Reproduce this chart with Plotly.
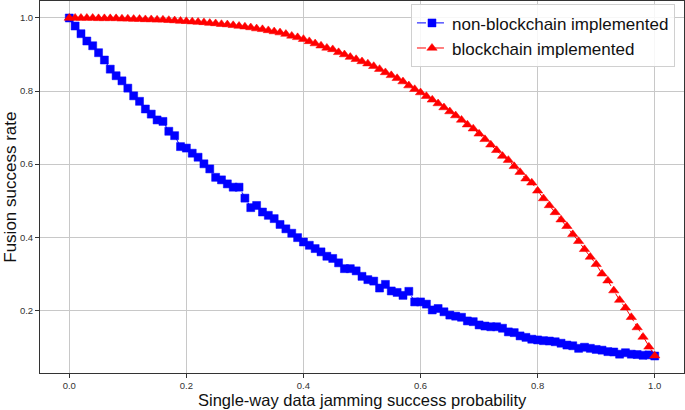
import plotly.graph_objects as go

x_vals = [i / 100 for i in range(101)]

non_blockchain = [
    1.000, 0.978, 0.957, 0.937, 0.924, 0.905, 0.885, 0.860, 0.842, 0.828,
    0.808, 0.787, 0.772, 0.751, 0.737, 0.721, 0.717, 0.690, 0.678, 0.648,
    0.644, 0.630, 0.619, 0.601, 0.587, 0.564, 0.557, 0.546, 0.537, 0.537,
    0.507, 0.481, 0.487, 0.469, 0.460, 0.451, 0.435, 0.423, 0.411, 0.399,
    0.387, 0.378, 0.369, 0.360, 0.348, 0.342, 0.330, 0.314, 0.314, 0.308,
    0.293, 0.284, 0.280, 0.261, 0.271, 0.253, 0.249, 0.241, 0.252, 0.223,
    0.223, 0.217, 0.201, 0.205, 0.196, 0.187, 0.184, 0.181, 0.171, 0.169,
    0.160, 0.157, 0.155, 0.155, 0.151, 0.141, 0.139, 0.130, 0.126, 0.121,
    0.119, 0.117, 0.116, 0.114, 0.110, 0.105, 0.103, 0.096, 0.099, 0.096,
    0.093, 0.091, 0.087, 0.086, 0.080, 0.084, 0.080, 0.079, 0.077, 0.078,
    0.075,
]

blockchain = [
    1.000, 1.000, 1.000, 1.000, 1.000, 0.999, 0.999, 0.999, 0.999, 0.998,
    0.998, 0.997, 0.997, 0.996, 0.996, 0.995, 0.995, 0.994, 0.993, 0.992,
    0.991, 0.990, 0.989, 0.988, 0.986, 0.985, 0.983, 0.982, 0.980, 0.978,
    0.976, 0.974, 0.971, 0.969, 0.966, 0.963, 0.960, 0.956, 0.951, 0.947,
    0.942, 0.936, 0.930, 0.924, 0.918, 0.914, 0.906, 0.900, 0.893, 0.887,
    0.881, 0.875, 0.868, 0.860, 0.851, 0.843, 0.835, 0.826, 0.815, 0.805,
    0.796, 0.786, 0.776, 0.766, 0.755, 0.744, 0.733, 0.721, 0.708, 0.697,
    0.683, 0.668, 0.653, 0.638, 0.622, 0.611, 0.594, 0.578, 0.560, 0.549,
    0.527, 0.506, 0.487, 0.468, 0.448, 0.430, 0.408, 0.389, 0.367, 0.346,
    0.326, 0.300, 0.281, 0.254, 0.228, 0.207, 0.181, 0.153, 0.127, 0.100,
    0.076,
]

x_ticks = [0.0, 0.2, 0.4, 0.6, 0.8, 1.0]
y_ticks = [0.2, 0.4, 0.6, 0.8, 1.0]

x_title = "Single-way data jamming success probability"
y_title = "Fusion success rate"

FONT = "Liberation Sans, Arial, sans-serif"

fig = go.Figure()
fig.add_trace(go.Scatter(
    x=x_vals, y=non_blockchain, mode="lines+markers",
    name="non-blockchain implemented",
    line=dict(color="blue", width=1, dash="dashdot"),
    marker=dict(symbol="square", size=8, color="blue",
                line=dict(color="blue", width=0.5)),
))
fig.add_trace(go.Scatter(
    x=x_vals, y=blockchain, mode="lines+markers",
    name="blockchain implemented",
    line=dict(color="red", width=1, dash="dashdot"),
    marker=dict(symbol="triangle-up", size=9, color="red",
                line=dict(color="red", width=0.5)),
))

axis_common = dict(
    showgrid=True, gridcolor="#c8c8c8", gridwidth=1,
    showline=True, linecolor="#333333", linewidth=1, mirror=True,
    ticks="outside", ticklen=4, tickcolor="#333333", tickwidth=1,
    tickfont=dict(family=FONT, size=9.5, color="#333333"),
    zeroline=False, automargin=False,
)

fig.update_layout(
    width=685, height=410,
    margin=dict(l=40, r=1, t=1, b=37),
    paper_bgcolor="white", plot_bgcolor="white",
    font=dict(family=FONT, color="#222222"),
    xaxis=dict(
        range=[-0.05, 1.05], tickvals=x_ticks,
        ticktext=[f"{v:.1f}" for v in x_ticks],
        **axis_common,
    ),
    yaxis=dict(
        range=[0.0285, 1.0465], tickvals=y_ticks,
        ticktext=[f"{v:.1f}" for v in y_ticks],
        **axis_common,
    ),
    legend=dict(
        x=0.986, y=0.991, xanchor="right", yanchor="top",
        bgcolor="rgba(255,255,255,0.85)", bordercolor="#d0d0d0", borderwidth=1,
        font=dict(family=FONT, size=17, color="#111111"),
        itemwidth=30,
    ),
    showlegend=True,
    annotations=[
        dict(text=x_title, xref="paper", yref="paper", x=0.5, y=-0.0725,
             xanchor="center", yanchor="middle", showarrow=False,
             font=dict(family=FONT, size=16.5, color="#111111")),
        dict(text=y_title, xref="paper", yref="paper", x=-0.047, y=0.5,
             xanchor="center", yanchor="middle", showarrow=False,
             textangle=-90,
             font=dict(family=FONT, size=17, color="#111111")),
    ],
)

fig.write_html("out.html", config={"displayModeBar": False})

with open("out.html", "r", encoding="utf-8") as f:
    html = f.read()
html = html.replace("<head>", "<head><style>html,body{margin:0;padding:0;overflow:hidden;}</style>", 1)
with open("out.html", "w", encoding="utf-8") as f:
    f.write(html)
